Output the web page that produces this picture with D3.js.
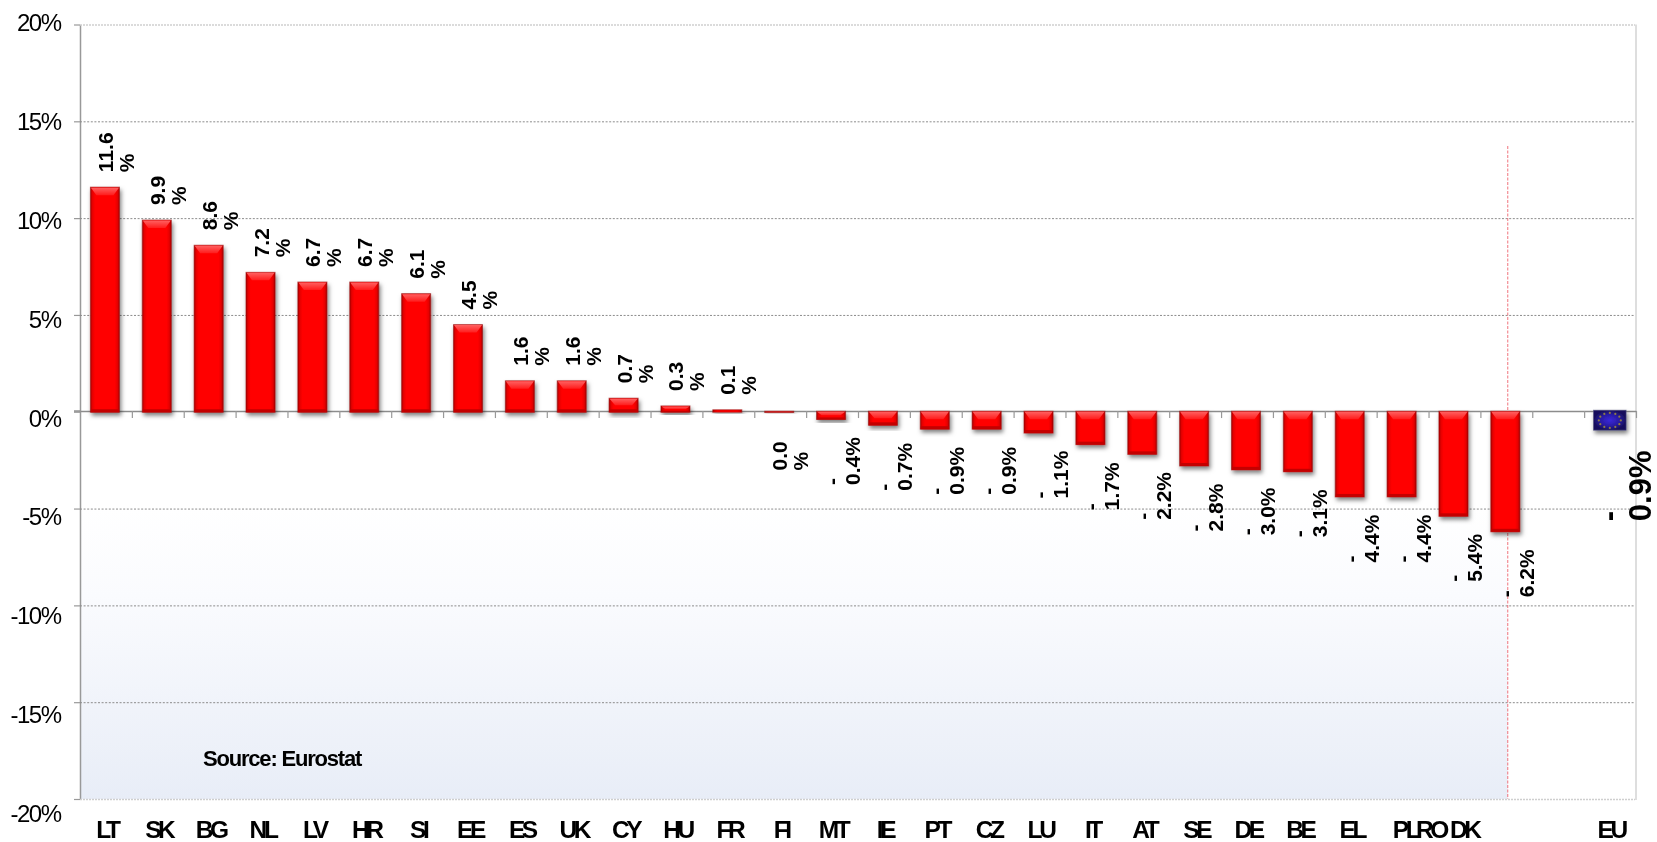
<!DOCTYPE html>
<html>
<head>
<meta charset="utf-8">
<script src="https://cdn.jsdelivr.net/npm/d3@7/dist/d3.min.js"></script>
<style>
html,body{margin:0;padding:0;background:#fff;overflow:hidden}
svg{display:block;filter:blur(0.35px)}
text{font-family:"Liberation Sans",Arial,sans-serif;fill:#000}
</style>
</head>
<body>
<svg id="c" width="1657" height="842"></svg>
<script>
const categories = ["LT","SK","BG","NL","LV","HR","SI","EE","ES","UK","CY","HU","FR","FI","MT","IE","PT","CZ","LU","IT","AT","SE","DE","BE","EL","PL","RO","DK"];
const values = [11.6,9.9,8.6,7.2,6.7,6.7,6.1,4.5,1.6,1.6,0.7,0.3,0.1,-0.04,-0.4,-0.7,-0.9,-0.9,-1.1,-1.7,-2.2,-2.8,-3.0,-3.1,-4.4,-4.4,-5.4,-6.2];
const euCategory = "EU";
const euValue = -0.9;
const yTicks = [20,15,10,5,0,-5,-10,-15,-20];
const sourceNote = "Source: Eurostat";

const svg = d3.select("#c");
const pLeft = 80, pRight = 1636, pTop = 24.5, pBottom = 799;
const slots = [...categories, "\u00a0", euCategory];
const x = d3.scaleBand().domain(slots).range([pLeft,pRight]).paddingInner(0.44).paddingOuter(0.22);
const xEdges = d3.scaleLinear().domain([0,slots.length]).range([pLeft,pRight]);
const y = d3.scaleLinear().domain([-20,20]).range([pBottom,pTop]);
const yLabel = d3.scaleLinear().domain([-20,20]).range([814,22.7]);
const barShift = -1;
const dividerX = xEdges(28) - 24.5;

const defs = svg.append("defs");
const bg = defs.append("linearGradient").attr("id","bg").attr("x1",0).attr("y1",0).attr("x2",0).attr("y2",1);
bg.append("stop").attr("offset",0).attr("stop-color","#ffffff");
bg.append("stop").attr("offset",0.3).attr("stop-color","#fafbfe");
bg.append("stop").attr("offset",1).attr("stop-color","#e8edf7");
const side = defs.append("linearGradient").attr("id","side").attr("x1",0).attr("y1",0).attr("x2",1).attr("y2",0);
[[0,"#a80000"],[0.07,"#e60000"],[0.16,"#ff0000"],[0.84,"#ff0000"],[0.93,"#e60000"],[1,"#a80000"]]
  .forEach(s=>side.append("stop").attr("offset",s[0]).attr("stop-color",s[1]));
const bev = defs.append("linearGradient").attr("id","bev").attr("x1",0).attr("y1",0).attr("x2",0).attr("y2",1);
bev.append("stop").attr("offset",0).attr("stop-color","#ff6060");
bev.append("stop").attr("offset",1).attr("stop-color","#ff1c1c");
const flag = defs.append("radialGradient").attr("id","flag");
[[0,"#3a28d8"],[0.55,"#2a1ca8"],[1,"#170f5c"]]
  .forEach(s=>flag.append("stop").attr("offset",s[0]).attr("stop-color",s[1]));
const shadow = defs.append("filter").attr("id","sh").attr("x","-30%").attr("y","-30%").attr("width","170%").attr("height","170%");
shadow.append("feDropShadow").attr("dx",1.5).attr("dy",3).attr("stdDeviation",2.2).attr("flood-color","#000").attr("flood-opacity",0.5);

// gradient panel
svg.append("rect").attr("x",pLeft).attr("y",y(-5)).attr("width",dividerX-pLeft).attr("height",pBottom-y(-5)).attr("fill","url(#bg)");

// grid + tick stubs
const grid = svg.append("g").attr("transform",`translate(${pLeft},0)`)
  .call(d3.axisLeft(y).tickValues(yTicks).tickSizeInner(6).tickSizeOuter(0).tickFormat(""));
grid.select(".domain").attr("stroke","#999").attr("stroke-width",1.5);
grid.selectAll(".tick line").attr("stroke","#999").attr("stroke-width",1.2);
grid.selectAll(".tick").filter(d=>d!==0).append("line")
  .attr("x1",0).attr("x2",pRight-pLeft-1)
  .attr("stroke",d=>Math.abs(d)===20?"#cfcfcf":"#8c8c8c")
  .attr("stroke-width",d=>Math.abs(d)===20?1.5:1)
  .attr("stroke-dasharray",d=>Math.abs(d)===20?"2 1":"2 1.6");

// right border
svg.append("line").attr("x1",pRight).attr("x2",pRight).attr("y1",pTop).attr("y2",pBottom+1).attr("stroke","#dedede").attr("stroke-width",2);

// red divider
svg.append("line").attr("x1",dividerX).attr("x2",dividerX).attr("y1",146).attr("y2",pBottom)
  .attr("stroke","#ee5a66").attr("stroke-width",1).attr("stroke-dasharray","3 1.5").attr("opacity",0.85);

// y labels
const yl = svg.append("g").attr("transform",`translate(60.5,0)`)
  .call(d3.axisLeft(yLabel).tickValues(yTicks).tickSize(0).tickPadding(0).tickFormat(d=>d+"%"));
yl.select(".domain").remove();
yl.selectAll("text").attr("font-size",24).attr("letter-spacing",-1.5).attr("fill","#000").attr("font-family",'"Liberation Sans",Arial,sans-serif');

// zero line with slot ticks
const z = svg.append("g").attr("transform",`translate(0,${y(0)-0.7})`)
  .call(d3.axisBottom(xEdges).tickValues(d3.range(1,slots.length+1)).tickSizeInner(7).tickSizeOuter(0).tickFormat(""));
z.select(".domain").attr("stroke","#8c8c8c").attr("stroke-width",1.5);
z.selectAll(".tick line").attr("stroke","#999").attr("stroke-width",1.2);
svg.append("line").attr("x1",pLeft-6).attr("x2",pLeft).attr("y1",y(0)-0.7).attr("y2",y(0)-0.7).attr("stroke","#8c8c8c").attr("stroke-width",1.5);

// bars
const rows = categories.map((c,i)=>({c,v:values[i]}));
const bars = svg.append("g").selectAll("g").data(rows).join("g");
bars.each(function(d){
  const g = d3.select(this);
  const X = x(d.c)+barShift, w = x.bandwidth();
  const y0 = Math.min(y(d.v),y(0)-0.5), y1 = Math.max(y(d.v),y(0)+0.5), h = y1-y0;
  g.append("rect").attr("x",X).attr("y",y0).attr("width",w).attr("height",h)
    .attr("fill","url(#side)").attr("stroke","#9a1010").attr("stroke-opacity",0.6).attr("stroke-width",1).attr("filter","url(#sh)");
  const bh = Math.min(8,h*0.5), ins = Math.min(6,bh+1);
  if (h>3) g.append("path").attr("d",`M${X+0.5},${y0+0.5}H${X+w-0.5}L${X+w-ins},${y0+bh}H${X+ins}Z`).attr("fill","url(#bev)");
  const bd = Math.min(3,h*0.25);
  if (h>3) g.append("rect").attr("x",X+0.5).attr("y",y1-bd).attr("width",w-1).attr("height",bd).attr("fill","#c40000");
});

// EU flag bar
const euX = x(euCategory)-2, euW = x.bandwidth()+3.5;
const euG = svg.append("g");
euG.append("rect").attr("x",euX).attr("y",y(0)-1.5).attr("width",euW).attr("height",y(euValue)-y(0)+2.5)
  .attr("fill","url(#flag)").attr("stroke","#4a4a7a").attr("stroke-opacity",0.6).attr("filter","url(#sh)");
const euCx = euX+euW/2, euCy = (y(0)+y(euValue))/2;
euG.selectAll("circle").data(d3.range(12)).join("circle")
  .attr("cx",i=>euCx+11*Math.cos(i*Math.PI/6)).attr("cy",i=>euCy+7.5*Math.sin(i*Math.PI/6))
  .attr("r",1.1).attr("fill","#8f7c45");

// value labels (wrapped as in the source)
function wrapLabel(v){
  const s = Math.abs(v).toFixed(1);
  return v<0 && s!=="0.0" ? ["-",s+"%"] : [s,"%"];
}
const lab = svg.append("g").attr("font-weight","bold").attr("font-size",21);
rows.forEach(d=>{
  const cx = x(d.c)+barShift+x.bandwidth()/2;
  const L = wrapLabel(d.v);
  const sy = d.v>0 ? y(d.v)-15 : (L[0]==="-" ? y(d.v)+65.5 : y(d.v)+58);
  L.forEach((t,i)=>{
    lab.append("text").attr("transform",`translate(${cx+8+i*21},${sy}) rotate(-90)`).text(t);
  });
});
wrapLabel(euValue).forEach((t,i)=>{
  svg.append("text").attr("font-weight","bold").attr("font-size",31)
    .attr("transform",`translate(${x(euCategory)+x.bandwidth()/2+9+i*32},${y(euValue)+92}) rotate(-90)`).text(t);
});

// category labels (source places the last few off-centre)
const labelShift = {PL:2.5,RO:-23.6,DK:-42};
const xa = svg.append("g").attr("transform","translate(0,816)")
  .call(d3.axisBottom(x).tickValues(slots.filter(s=>s.trim()!=="")).tickSize(0).tickPadding(0));
xa.select(".domain").remove();
xa.selectAll(".tick").attr("transform",d=>`translate(${x(d)+x.bandwidth()/2+(labelShift[d]!==undefined?labelShift[d]:1)},0)`);
xa.selectAll("text").attr("y",21.5).attr("dy",0).attr("font-size",24.5).attr("font-weight","bold").attr("letter-spacing",-3.4)
  .attr("fill","#000").attr("font-family",'"Liberation Sans",Arial,sans-serif');

// source note
svg.append("text").attr("x",203).attr("y",766).attr("font-size",22).attr("font-weight","bold").attr("letter-spacing",-1.2).text(sourceNote);
</script>
</body>
</html>
